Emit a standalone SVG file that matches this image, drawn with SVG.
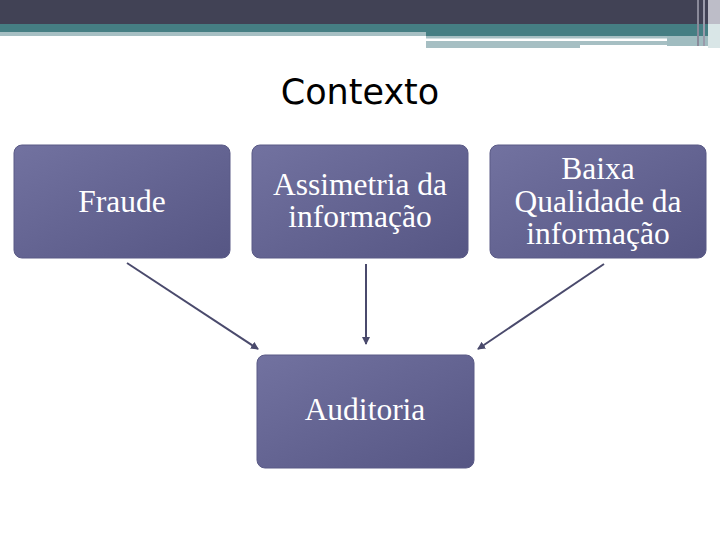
<svg xmlns="http://www.w3.org/2000/svg" width="720" height="540" viewBox="0 0 720 540">
<style>
.lbl{font-family:"Liberation Serif","Times New Roman",serif;font-size:31.5px;fill:#ffffff;text-anchor:middle}
.box{fill:url(#g);stroke:#5a5a86;stroke-width:1}
.con{stroke:#4a4a6c;stroke-width:2;fill:none;marker-end:url(#ah)}
</style>
<defs>
<linearGradient id="g" x1="0" y1="0" x2="1" y2="1">
<stop offset="0" stop-color="#7272a0"/>
<stop offset="1" stop-color="#565684"/>
</linearGradient>
<marker id="ah" markerWidth="8" markerHeight="8" refX="7" refY="4" orient="auto" markerUnits="userSpaceOnUse">
<path d="M0,0 L8,4 L0,8 z" fill="#4a4a6c"/>
</marker>
</defs>
<rect x="0" y="0" width="720" height="540" fill="#ffffff"/>
<g id="header">
<rect x="0" y="0" width="720" height="24" fill="#414255"/>
<rect x="0" y="24" width="720" height="8" fill="#457e83"/>
<rect x="0" y="32" width="426" height="4" fill="#a6bfc3"/>
<rect x="426" y="32" width="282" height="4" fill="#457e83"/>
<rect x="426" y="36" width="241" height="2.5" fill="#a6bfc3"/>
<rect x="426" y="41" width="154" height="7" fill="#a6bfc3"/>
<rect x="580" y="41" width="87" height="4" fill="#a6bfc3"/>
<rect x="667" y="36" width="41" height="10" fill="#a0bcc0"/>
<rect x="697" y="0" width="2" height="46" fill="#8a8a9a"/>
<rect x="703" y="0" width="2" height="46" fill="#9a9aaa"/>
<rect x="708" y="0" width="12" height="24" fill="#bdbdc8"/>
<rect x="708" y="24" width="12" height="24" fill="#d9e6e7"/>
</g>
<text x="360" y="104" font-family="DejaVu Sans, Verdana, sans-serif" font-size="35" fill="#000000" text-anchor="middle">Contexto</text>
<g id="connectors">
<line class="con" x1="127" y1="263" x2="258" y2="349"/>
<line class="con" x1="366" y1="264" x2="366" y2="344"/>
<line class="con" x1="604" y1="264" x2="478" y2="349"/>
</g>
<g id="fraude">
<rect class="box" x="14" y="145" width="216" height="113" rx="8"/>
<text class="lbl" x="122" y="212">Fraude</text>
</g>
<g id="assimetria">
<rect class="box" x="252" y="145" width="216" height="113" rx="8"/>
<text class="lbl" x="360" y="195">Assimetria da</text>
<text class="lbl" x="360" y="227">informação</text>
</g>
<g id="baixa">
<rect class="box" x="490" y="145" width="216" height="113" rx="8"/>
<text class="lbl" x="598" y="179">Baixa</text>
<text class="lbl" x="598" y="212">Qualidade da</text>
<text class="lbl" x="598" y="244">informação</text>
</g>
<g id="auditoria">
<rect class="box" x="257" y="355" width="217" height="113" rx="8"/>
<text class="lbl" x="365" y="420">Auditoria</text>
</g>
</svg>
